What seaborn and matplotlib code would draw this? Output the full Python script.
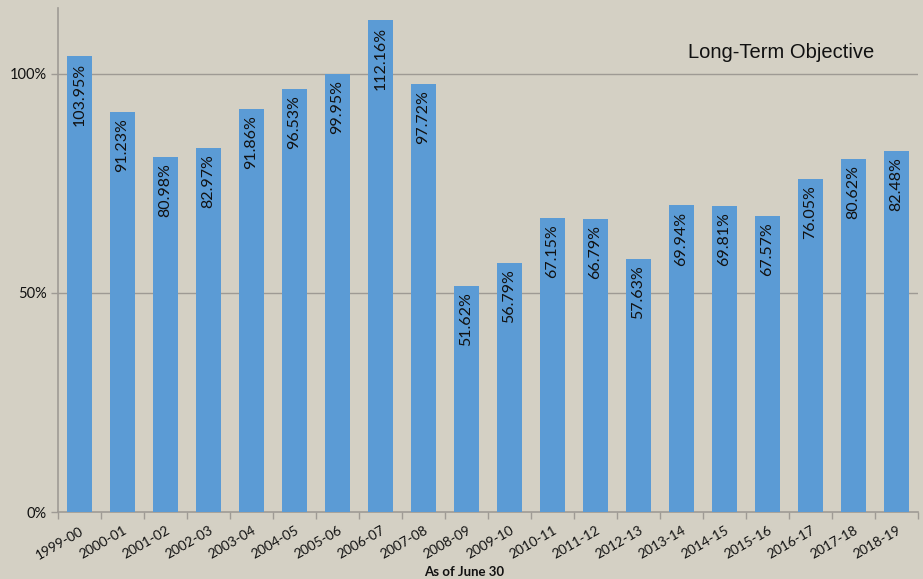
import matplotlib
matplotlib.use("Agg")
import matplotlib.pyplot as plt
import seaborn as sns
import numpy as np
import pandas as pd

years = ["1999-00", "2000-01", "2001-02", "2002-03", "2003-04", "2004-05",
         "2005-06", "2006-07", "2007-08", "2008-09", "2009-10", "2010-11",
         "2011-12", "2012-13", "2013-14", "2014-15", "2015-16", "2016-17",
         "2017-18", "2018-19"]
funded_ratio = [103.95, 91.23, 80.98, 82.97, 91.86, 96.53, 99.95, 112.16,
                97.72, 51.62, 56.79, 67.15, 66.79, 57.63, 69.94, 69.81,
                67.57, 76.05, 80.62, 82.48]
y_ticks = [0, 50, 100]
y_tick_labels = ["0%", "50%", "100%"]

BG = "#D4D0C4"
BAR = "#5B9BD5"
GRID = "#9E9A94"

sns.set_theme(style="white")
plt.rcParams["font.family"] = ["Lato", "DejaVu Sans"]

df = pd.DataFrame({"year": years, "ratio": funded_ratio})

fig = plt.figure(figsize=(9.23, 5.79), dpi=100, facecolor=BG)
ax = fig.add_axes([58 / 923, 1 - 512 / 579, 860 / 923, 504 / 579])
ax.set_facecolor(BG)

sns.barplot(data=df, x="year", y="ratio", color=BAR, saturation=1,
            width=0.58, linewidth=0, edgecolor=BAR, ax=ax, zorder=3)

ax.set_ylim(0, 115)
ax.set_xlim(-0.5, len(years) - 0.5)
ax.set_yticks(y_ticks)
ax.set_yticklabels(y_tick_labels, fontsize=10.5, color="#111111")
for y in y_ticks[1:]:
    ax.axhline(y, color=GRID, lw=1, zorder=1)

# category labels rotated; tick marks sit on the category boundaries
ax.set_xticks(range(len(years)))
ax.set_xticklabels(years, rotation=30, ha="right", rotation_mode="anchor",
                   fontsize=9.8, color="#111111")
ax.tick_params(axis="x", which="major", length=0, pad=9)
ax.set_xticks(np.arange(-0.5, len(years), 1), minor=True)
ax.tick_params(axis="x", which="minor", length=5, width=1, color=GRID,
               direction="out", bottom=True)
ax.tick_params(axis="y", length=5, width=1, color=GRID, direction="out",
               left=True, pad=3)

for side in ("top", "right"):
    ax.spines[side].set_visible(False)
for side in ("left", "bottom"):
    ax.spines[side].set_color(GRID)
    ax.spines[side].set_linewidth(1.2)

ax.set_xlabel("")
ax.set_ylabel("")

for i, v in enumerate(funded_ratio):
    ax.text(i, v - 1.4, f"{v:.2f}%", rotation=90, ha="center", va="top",
            fontsize=11.5, color="#111111", zorder=4)

fig.text(781 / 923, 1 - 53 / 579, "Long-Term Objective", ha="center",
         va="center", fontsize=14.5, family=["Liberation Sans", "DejaVu Sans"],
         color="#111111")
fig.text(464 / 923, 1 - 572 / 579, "As of June 30", ha="center",
         va="center", fontsize=9.5, fontweight="bold", color="#111111")

fig.savefig("out.png", dpi=100, facecolor=BG)
